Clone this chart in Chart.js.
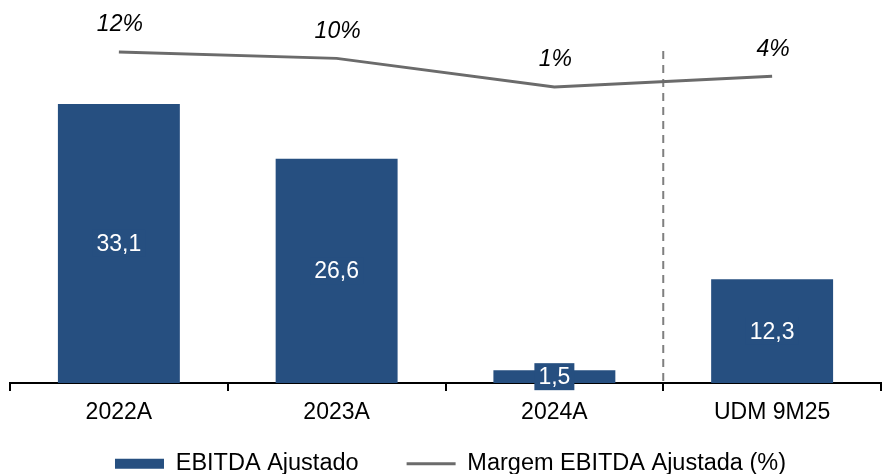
<!DOCTYPE html>
<html><head><meta charset="utf-8">
<script src="https://cdn.jsdelivr.net/npm/chart.js@4.4.1/dist/chart.umd.min.js"></script>
<style>html,body{margin:0;padding:0;background:#fff}</style>
</head><body>
<canvas id="c" width="882" height="474"></canvas>
<script>
// ---- data ----
const categories = ['2022A', '2023A', '2024A', 'UDM 9M25'];
const ebitda = [33.1, 26.6, 1.5, 12.3];
const margin = [12.0, 10.0, 1.0, 4.4];
const seriesNames = ['EBITDA Ajustado', 'Margem EBITDA Ajustada (%)'];
const yRange = [0, 44.25];
const y2Range = [-92, 25.2];
const dividerAfterIndex = 2;
const dividerTopValue = 39.4;

// ---- styles ----
const BAR_COLOR = '#264F80';
const LINE_COLOR = '#6B6B6B';
const FONT = '"Liberation Sans", Arial, sans-serif';
const FS = 23;
const LEGEND_FS = 23.5;

const fmtComma = v => v.toFixed(1).replace('.', ',');

const labelsPlugin = {
  id: 'labels',
  afterDatasetsDraw(chart) {
    const ctx = chart.ctx;
    ctx.save();
    const bm = chart.getDatasetMeta(0);
    ctx.font = `${FS}px ${FONT}`;
    ctx.textAlign = 'center';
    ctx.textBaseline = 'middle';
    bm.data.forEach((el, i) => {
      const cx = el.x;
      const cy = (el.y + el.base) / 2;
      const txt = fmtComma(ebitda[i]);
      const w = ctx.measureText(txt).width + 8;
      const h = 27;
      ctx.fillStyle = BAR_COLOR;
      ctx.fillRect(cx - w / 2, cy - h / 2, w, h);
      ctx.fillStyle = '#FFFFFF';
      ctx.fillText(txt, cx, cy + 1);
    });
    const lm = chart.getDatasetMeta(1);
    ctx.font = `italic ${FS}px ${FONT}`;
    ctx.fillStyle = '#000000';
    lm.data.forEach((el, i) => {
      ctx.fillText(Math.round(margin[i]) + '%', el.x + 1, el.y - 27);
    });
    ctx.restore();
  }
};

const dividerPlugin = {
  id: 'divider',
  beforeDatasetsDraw(chart) {
    const x = chart.scales.x, y = chart.scales.y;
    const px = (x.getPixelForValue(dividerAfterIndex) + x.getPixelForValue(dividerAfterIndex + 1)) / 2;
    const ctx = chart.ctx;
    ctx.save();
    ctx.strokeStyle = '#7F7F7F';
    ctx.lineWidth = 2;
    ctx.setLineDash([8, 6]);
    ctx.beginPath();
    ctx.moveTo(px, y.getPixelForValue(dividerTopValue));
    ctx.lineTo(px, chart.chartArea.bottom);
    ctx.stroke();
    ctx.restore();
  }
};

// move the legend so its items sit where the reference has them
const legendShiftPlugin = {
  id: 'legendShift',
  afterLayout(chart) {
    const lg = chart.legend;
    if (!lg) return;
    const dy = 22, dx = 5;
    lg.top -= dy;
    lg.bottom -= dy;
    lg.left += dx;
    lg.right += dx;
  }
};

new Chart(document.getElementById('c'), {
  data: {
    labels: categories,
    datasets: [
      {
        type: 'bar',
        label: seriesNames[0],
        data: ebitda,
        backgroundColor: BAR_COLOR,
        borderWidth: 0,
        barPercentage: 0.56,
        categoryPercentage: 1.0,
        pointStyle: 'rect',
        yAxisID: 'y'
      },
      {
        type: 'line',
        label: seriesNames[1],
        data: margin,
        borderColor: LINE_COLOR,
        backgroundColor: LINE_COLOR,
        borderWidth: 3,
        pointRadius: 0,
        pointHoverRadius: 0,
        pointBorderWidth: 3,
        pointStyle: 'line',
        tension: 0,
        fill: false,
        yAxisID: 'y2'
      }
    ]
  },
  options: {
    responsive: false,
    animation: false,
    devicePixelRatio: 1,
    layout: { padding: { top: 10, left: 10, right: 1, bottom: -33.5 } },
    plugins: {
      tooltip: { enabled: false },
      legend: {
        position: 'bottom',
        labels: {
          usePointStyle: true,
          pointStyleWidth: 49,
          boxHeight: 10,
          padding: 48,
          color: '#000000',
          font: { family: FONT, size: LEGEND_FS }
        }
      }
    },
    scales: {
      x: {
        offset: true,
        grid: { display: true, drawOnChartArea: false, drawTicks: true, tickLength: 8, color: '#000000', lineWidth: 2, offset: true },
        border: { display: true, color: '#000000', width: 2 },
        ticks: { color: '#000000', padding: 8, font: { family: FONT, size: FS }, maxRotation: 0 },
        afterFit(scale) { scale.height = 43; }
      },
      y: { display: false, min: yRange[0], max: yRange[1] },
      y2: { display: false, min: y2Range[0], max: y2Range[1], position: 'right', grid: { display: false } }
    }
  },
  plugins: [dividerPlugin, labelsPlugin, legendShiftPlugin]
});
</script>
</body></html>
